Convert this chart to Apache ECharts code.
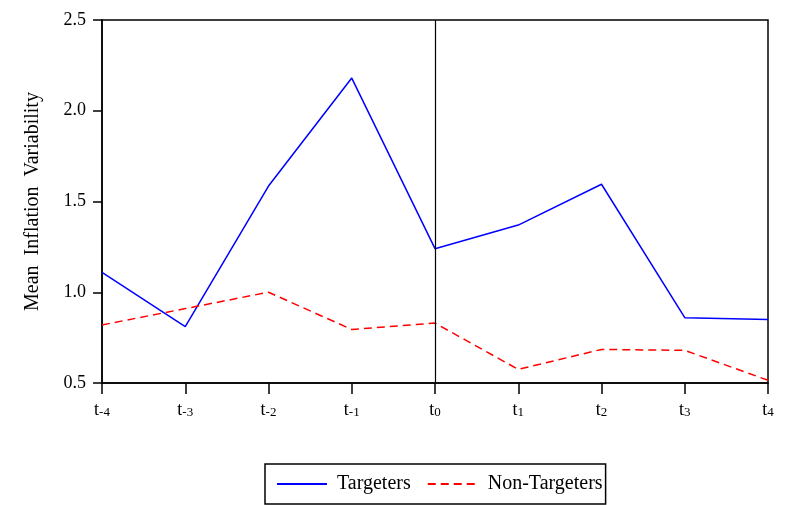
<!DOCTYPE html>
<html>
<head>
<meta charset="utf-8">
<script src="https://cdn.jsdelivr.net/npm/echarts@6/dist/echarts.min.js"></script>
<style>
  html, body { margin: 0; padding: 0; background: #fff; }
  #chart { width: 785px; height: 505px; }
</style>
</head>
<body>
<div id="chart"></div>
<script>
  // periods around adoption, t-4 .. t4
  var periods = ['-4', '-3', '-2', '-1', '0', '1', '2', '3', '4']
  var targeters = [1.11, 0.81, 1.585, 2.18, 1.24, 1.37, 1.595, 0.86, 0.85]
  var nonTargeters = [0.82, 0.91, 1.0, 0.795, 0.83, 0.575, 0.685, 0.68, 0.515]
  var yTicks = [0.5, 1.0, 1.5, 2.0, 2.5]

  var font = 'Liberation Serif'
  var chart = echarts.init(document.getElementById('chart'))

  var option = {
    animation: false,
    textStyle: { fontFamily: font, color: '#000' },
    grid: {
      left: 102, right: 17, top: 20, bottom: 122,
      show: true, borderColor: '#000', borderWidth: 1.5,
    },
    xAxis: {
      type: 'category',
      boundaryGap: false,
      data: periods,
      axisLine: { lineStyle: { color: '#000', width: 1.5 } },
      axisTick: { length: 11, lineStyle: { color: '#000', width: 1.5 } },
      axisLabel: {
        margin: 12,
        formatter: function (v) { return '{t|t}{s|' + v + '}' },
        rich: {
          t: { fontFamily: font, fontSize: 18, color: '#000', verticalAlign: 'bottom' },
          s: { fontFamily: font, fontSize: 13, color: '#000', padding: [11, 0, 0, 0] },
        },
      },
      splitLine: { show: false },
    },
    yAxis: {
      type: 'value',
      min: yTicks[0],
      max: yTicks[yTicks.length - 1],
      interval: 0.5,
      name: 'Mean  Inflation  Variability',
      nameLocation: 'middle',
      nameGap: 59,
      nameTextStyle: { fontFamily: font, fontSize: 20, color: '#000' },
      axisLine: { show: true, lineStyle: { color: '#000', width: 1.5 } },
      axisTick: { show: true, inside: false, length: 9, lineStyle: { color: '#000', width: 1.5 } },
      axisLabel: {
        margin: 16, fontFamily: font, fontSize: 18, color: '#000',
        formatter: function (v) { return v.toFixed(1) },
      },
      splitLine: { show: false },
    },
    legend: {
      bottom: 1,
      left: 265,
      padding: [10, 3, 10, 11],
      borderColor: '#000',
      borderWidth: 1.5,
      itemWidth: 50,
      itemHeight: 14,
      itemGap: 16,
      itemStyle: { opacity: 0 },
      textStyle: { fontFamily: font, fontSize: 20, color: '#000', padding: [0, 0, 0, 5] },
      data: ['Targeters', 'Non-Targeters'],
    },
    series: [
      {
        name: 'Targeters',
        type: 'line',
        data: targeters,
        symbol: 'none',
        lineStyle: { color: '#0000ff', width: 1.5 },
        itemStyle: { color: '#0000ff' },
        markLine: {
          silent: true,
          symbol: 'none',
          label: { show: false },
          lineStyle: { color: '#000', width: 1.2, type: 'solid' },
          data: [{ xAxis: '0' }],
        },
      },
      {
        name: 'Non-Targeters',
        type: 'line',
        data: nonTargeters,
        symbol: 'none',
        lineStyle: { color: '#ff0000', width: 1.5, type: [8, 5] },
        itemStyle: { color: '#ff0000' },
      },
    ],
  }
  chart.setOption(option)
</script>
</body>
</html>
